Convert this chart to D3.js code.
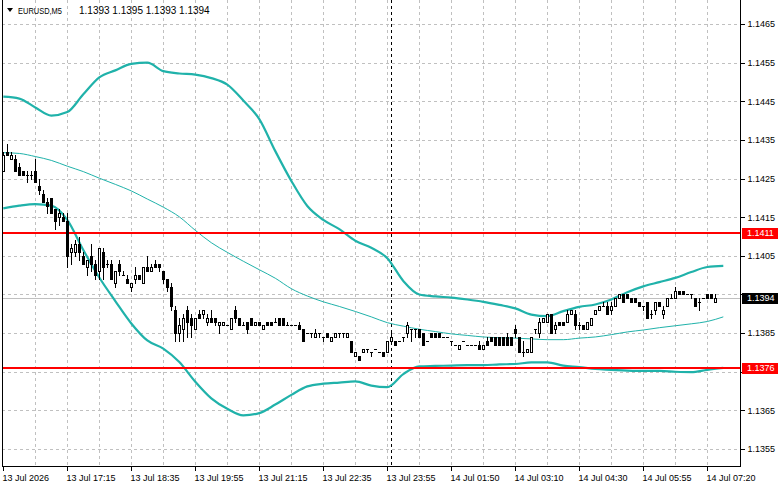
<!DOCTYPE html>
<html>
<head>
<meta charset="utf-8">
<script src="https://cdn.jsdelivr.net/npm/d3@7"></script>
<style>
  body { margin: 0; background: #fff; }
  svg { display: block; font-family: "Liberation Sans", Arial, sans-serif; }
  .axis text { font-size: 9px; fill: #000; }
</style>
</head>
<body>
<div class="chart"></div>
<script>
// EURUSD M5 candles, bars are numbered from the left edge
var open = [
  1.1427,1.1432,1.1430,1.1430,1.1428,1.1427,1.1426,1.1426,1.1427,1.1423,
  1.1421,1.1419,1.1420,1.1417,1.1415,1.1415,1.1414,1.1406,1.1406,1.1408,
  1.1405,1.1402,1.1405,1.1403,1.1401,1.1406,1.1403,1.1403,1.1398,1.1403,
  1.1400,1.1399,1.1397,1.1399,1.1400,1.1398,1.1402,1.1401,1.1403,1.1403,
  1.1401,1.1399,1.1397,1.1391,1.1385,1.1386,1.1391,1.1389,1.1386,1.1390,
  1.1390,1.1388,1.1389,1.1389,1.1387,1.1387,1.1387,1.1386,1.1391,1.1389,
  1.1387,1.1388,1.1389,1.1387,1.1388,1.1386,1.1388,1.1388,1.1388,1.1389,
  1.1389,1.1387,1.1387,1.1387,1.1387,1.1386,1.1385,1.1385,1.1384,1.1385,
  1.1384,1.1385,1.1383,1.1384,1.1385,1.1385,1.1384,1.1383,1.1379,1.1379,
  1.1380,1.1381,1.1380,1.1381,1.1380,1.1380,1.1380,1.1383,1.1383,1.1383,
  1.1384,1.1385,1.1386,1.1386,1.1386,1.1385,1.1383,1.1385,1.1385,1.1385,
  1.1384,1.1384,1.1383,1.1382,1.1381,1.1383,1.1382,1.1382,1.1382,1.1382,
  1.1381,1.1383,1.1384,1.1384,1.1384,1.1384,1.1384,1.1384,1.1386,1.1384,
  1.1380,1.1380,1.1380,1.1386,1.1385,1.1388,1.1388,1.1390,1.1386,1.1388,
  1.1388,1.1388,1.1390,1.1390,1.1387,1.1387,1.1386,1.1387,1.1390,1.1391,
  1.1392,1.1392,1.1391,1.1392,1.1394,1.1395,1.1395,1.1394,1.1394,1.1393,
  1.1392,1.1393,1.1390,1.1391,1.1393,1.1390,1.1392,1.1394,1.1394,1.1396,
  1.1396,1.1395,1.1395,1.1394,1.1393,1.1394,1.1395,1.1395,1.1393
];
var high = [
  1.1432,1.1434,1.1432,1.1431,1.1429,1.1427,1.1427,1.1427,1.1430,1.1425,
  1.1422,1.1420,1.1420,1.1417,1.1417,1.1416,1.1416,1.1408,1.1409,1.1410,
  1.1406,1.1404,1.1408,1.1404,1.1407,1.1407,1.1404,1.1404,1.1401,1.1404,
  1.1401,1.1400,1.1398,1.1402,1.1400,1.1402,1.1405,1.1403,1.1404,1.1403,
  1.1401,1.1399,1.1398,1.1392,1.1389,1.1390,1.1392,1.1390,1.1389,1.1391,
  1.1391,1.1390,1.1391,1.1389,1.1388,1.1388,1.1387,1.1389,1.1392,1.1389,
  1.1388,1.1388,1.1389,1.1388,1.1388,1.1387,1.1388,1.1388,1.1389,1.1389,
  1.1389,1.1388,1.1387,1.1387,1.1388,1.1386,1.1385,1.1385,1.1386,1.1385,
  1.1384,1.1385,1.1384,1.1385,1.1385,1.1385,1.1385,1.1383,1.1380,1.1379,
  1.1381,1.1381,1.1380,1.1381,1.1380,1.1380,1.1383,1.1385,1.1383,1.1383,
  1.1384,1.1388,1.1386,1.1386,1.1386,1.1385,1.1383,1.1385,1.1385,1.1385,
  1.1384,1.1384,1.1383,1.1382,1.1382,1.1383,1.1382,1.1382,1.1382,1.1383,
  1.1382,1.1384,1.1384,1.1384,1.1384,1.1384,1.1385,1.1384,1.1387,1.1384,
  1.1383,1.1381,1.1384,1.1386,1.1389,1.1389,1.1390,1.1390,1.1388,1.1388,
  1.1388,1.1391,1.1391,1.1391,1.1388,1.1387,1.1388,1.1389,1.1391,1.1392,
  1.1393,1.1393,1.1393,1.1394,1.1395,1.1395,1.1395,1.1394,1.1394,1.1393,
  1.1392,1.1393,1.1391,1.1393,1.1393,1.1392,1.1394,1.1395,1.1397,1.1396,
  1.1396,1.1395,1.1395,1.1394,1.1394,1.1394,1.1395,1.1395,1.1395
];
var low = [
  1.1427,1.1431,1.1430,1.1427,1.1426,1.1426,1.1424,1.1425,1.1424,1.1421,
  1.1419,1.1416,1.1416,1.1412,1.1413,1.1414,1.1402,1.1403,1.1405,1.1404,
  1.1403,1.1400,1.1401,1.1399,1.1399,1.1399,1.1402,1.1399,1.1397,1.1400,
  1.1400,1.1398,1.1396,1.1398,1.1399,1.1398,1.1401,1.1401,1.1402,1.1401,
  1.1398,1.1396,1.1391,1.1383,1.1383,1.1383,1.1384,1.1384,1.1386,1.1389,
  1.1389,1.1387,1.1388,1.1387,1.1385,1.1387,1.1387,1.1386,1.1388,1.1387,
  1.1387,1.1385,1.1387,1.1387,1.1387,1.1386,1.1387,1.1387,1.1388,1.1387,
  1.1387,1.1387,1.1387,1.1387,1.1386,1.1383,1.1385,1.1384,1.1384,1.1384,
  1.1383,1.1384,1.1383,1.1384,1.1384,1.1384,1.1384,1.1380,1.1379,1.1378,
  1.1380,1.1380,1.1379,1.1381,1.1380,1.1379,1.1380,1.1383,1.1382,1.1383,
  1.1383,1.1384,1.1383,1.1384,1.1384,1.1382,1.1383,1.1384,1.1384,1.1384,
  1.1384,1.1384,1.1382,1.1382,1.1381,1.1383,1.1382,1.1382,1.1382,1.1381,
  1.1381,1.1382,1.1383,1.1382,1.1382,1.1382,1.1382,1.1382,1.1384,1.1380,
  1.1379,1.1380,1.1380,1.1385,1.1384,1.1388,1.1388,1.1385,1.1385,1.1387,
  1.1387,1.1388,1.1390,1.1386,1.1386,1.1386,1.1386,1.1387,1.1390,1.1391,
  1.1392,1.1390,1.1390,1.1392,1.1394,1.1393,1.1394,1.1393,1.1393,1.1392,
  1.1391,1.1389,1.1389,1.1390,1.1392,1.1389,1.1392,1.1394,1.1394,1.1395,
  1.1395,1.1395,1.1394,1.1392,1.1391,1.1394,1.1394,1.1394,1.1393
];
var close = [
  1.1431,1.1431,1.1431,1.1427,1.1426,1.1426,1.1426,1.1426,1.1424,1.1422,
  1.1419,1.1418,1.1416,1.1414,1.1416,1.1414,1.1405,1.1407,1.1408,1.1406,
  1.1403,1.1404,1.1403,1.1400,1.1407,1.1402,1.1403,1.1399,1.1401,1.1401,
  1.1400,1.1398,1.1398,1.1400,1.1399,1.1402,1.1401,1.1402,1.1402,1.1402,
  1.1399,1.1397,1.1392,1.1385,1.1387,1.1389,1.1388,1.1387,1.1389,1.1389,
  1.1391,1.1389,1.1388,1.1388,1.1388,1.1388,1.1387,1.1389,1.1389,1.1387,
  1.1387,1.1386,1.1387,1.1388,1.1387,1.1387,1.1387,1.1387,1.1388,1.1387,
  1.1387,1.1387,1.1387,1.1387,1.1386,1.1383,1.1385,1.1385,1.1385,1.1385,
  1.1384,1.1384,1.1384,1.1385,1.1385,1.1385,1.1385,1.1380,1.1380,1.1378,
  1.1381,1.1381,1.1380,1.1381,1.1380,1.1379,1.1383,1.1384,1.1382,1.1383,
  1.1384,1.1387,1.1386,1.1386,1.1384,1.1382,1.1383,1.1384,1.1384,1.1384,
  1.1384,1.1384,1.1383,1.1382,1.1382,1.1383,1.1382,1.1382,1.1382,1.1381,
  1.1382,1.1382,1.1383,1.1382,1.1382,1.1382,1.1382,1.1382,1.1385,1.1380,
  1.1380,1.1381,1.1384,1.1386,1.1388,1.1389,1.1390,1.1385,1.1387,1.1387,
  1.1387,1.1390,1.1391,1.1387,1.1387,1.1386,1.1388,1.1389,1.1391,1.1392,
  1.1392,1.1390,1.1392,1.1394,1.1395,1.1393,1.1394,1.1393,1.1393,1.1392,
  1.1392,1.1389,1.1390,1.1393,1.1392,1.1391,1.1394,1.1394,1.1396,1.1395,
  1.1395,1.1395,1.1395,1.1392,1.1393,1.1394,1.1394,1.1394,1.1394
];

// Bollinger bands every 4 bars (shifted 2 bars ahead)
var bandIdx = [0,4,8,12,16,20,24,28,32,36,40,44,48,52,56,60,64,68,72,76,80,84,88,
  92,96,100,104,108,112,116,120,124,128,132,136,140,144,148,152,156,160,164,168,
  172,176,180];
var upperBand = [
  1.14462,1.14457,1.14434,1.14413,1.14422,1.14468,1.14512,1.14530,1.14547,1.14550,
  1.14528,1.14522,1.14519,1.14510,1.14493,1.14452,1.14404,1.14321,1.14244,1.14179,
  1.14143,1.14119,1.14089,1.14071,1.14044,1.13985,1.13950,1.13945,1.13942,1.13937,
  1.13931,1.13923,1.13914,1.13898,1.13894,1.13907,1.13918,1.13924,1.13937,1.13956,
  1.13971,1.13982,1.13993,1.14008,1.14021,1.14024
];
var middleBand = [
  1.14317,1.14315,1.14307,1.14297,1.14282,1.14268,1.14251,1.14235,1.14218,1.14197,
  1.14176,1.14151,1.14116,1.14084,1.14059,1.14036,1.14014,1.13992,1.13965,1.13946,
  1.13931,1.13919,1.13906,1.13892,1.13877,1.13868,1.13860,1.13854,1.13848,1.13844,
  1.13840,1.13838,1.13837,1.13835,1.13833,1.13833,1.13837,1.13840,1.13846,1.13853,
  1.13858,1.13864,1.13869,1.13874,1.13880,1.13892
];
var lowerBand = [
  1.14173,1.14180,1.14184,1.14180,1.14143,1.14065,1.13994,1.13933,1.13875,1.13831,
  1.13810,1.13775,1.13724,1.13681,1.13654,1.13637,1.13643,1.13665,1.13690,1.13712,
  1.13719,1.13722,1.13725,1.13714,1.13710,1.13744,1.13764,1.13765,1.13766,1.13767,
  1.13767,1.13769,1.13770,1.13774,1.13774,1.13766,1.13762,1.13757,1.13755,1.13753,
  1.13752,1.13752,1.13750,1.13749,1.13755,1.13760
];

var priceTicks = [1.1355,1.1365,1.1375,1.1385,1.1395,1.1405,1.1415,1.1425,1.1435,1.1445,1.1455,1.1465];
var hiddenTicks = [1.1375, 1.1395]; // covered by the price boxes
var timeIdx = [0,16,32,48,64,80,96,112,128,144,160,176];
var timeLabels = ["13 Jul 2026","13 Jul 17:15","13 Jul 18:35","13 Jul 19:55","13 Jul 21:15",
  "13 Jul 22:35","13 Jul 23:55","14 Jul 01:50","14 Jul 03:10","14 Jul 04:30","14 Jul 05:55","14 Jul 07:20"];
var gridIdx = [8,16,24,32,40,48,56,64,72,80,88,96,104,112,120,128,136,144,152,160,168,176];
var separatorIdx = 97;
var levels = [1.1411, 1.1376];
var bid = 1.1394;
var symbol = "EURUSD,M5";
var ohlc = "1.1393 1.1395 1.1393 1.1394";

var width = 781, height = 489;
var plotLeft = 2, plotRight = 740, plotTop = 0, plotBottom = 466;
var teal = "#20b2aa";
var fmt = d3.format(".4f");

var svg = d3.select(".chart").append("svg")
  .attr("width", width).attr("height", height);

var x = d3.scaleLinear().domain([0, 184]).range([3.3, 739.3]);
var y = d3.scaleLinear().domain([1.13506, 1.14707]).range([466, 2]);

svg.append("clipPath").attr("id", "plot")
  .append("rect").attr("x", plotLeft).attr("y", plotTop)
  .attr("width", plotRight - plotLeft).attr("height", plotBottom - plotTop);

// grid
var grid = svg.append("g").attr("stroke", "#c0c0c0").attr("stroke-dasharray", "3,3")
  .attr("shape-rendering", "crispEdges");
grid.selectAll(".h").data(priceTicks).join("line")
  .attr("x1", plotLeft).attr("x2", plotRight)
  .attr("y1", function (d) { return Math.round(y(d)) + 0.5; })
  .attr("y2", function (d) { return Math.round(y(d)) + 0.5; });
grid.selectAll(".v").data(gridIdx).join("line")
  .attr("y1", plotTop).attr("y2", plotBottom)
  .attr("x1", function (d) { return Math.round(x(d)) + 0.5; })
  .attr("x2", function (d) { return Math.round(x(d)) + 0.5; });

var plot = svg.append("g").attr("clip-path", "url(#plot)");

// period separator
plot.append("line")
  .attr("x1", Math.round(x(separatorIdx)) + 0.5).attr("x2", Math.round(x(separatorIdx)) + 0.5)
  .attr("y1", plotTop).attr("y2", plotBottom)
  .attr("stroke", "#000").attr("stroke-dasharray", "3,3").attr("shape-rendering", "crispEdges");

// bid line
plot.append("line")
  .attr("x1", plotLeft).attr("x2", plotRight)
  .attr("y1", Math.round(y(bid)) + 0.5).attr("y2", Math.round(y(bid)) + 0.5)
  .attr("stroke", "#c0c0c0").attr("shape-rendering", "crispEdges");

// bollinger bands
function bandLine(values) {
  return d3.line()
    .x(function (d, i) { return x(bandIdx[i]); })
    .y(function (d) { return y(d); })
    .curve(d3.curveMonotoneX)(values);
}
plot.append("path").attr("d", bandLine(middleBand))
  .attr("fill", "none").attr("stroke", teal).attr("stroke-width", 1);
[upperBand, lowerBand].forEach(function (b) {
  plot.append("path").attr("d", bandLine(b))
    .attr("fill", "none").attr("stroke", teal).attr("stroke-width", 2.2);
});

// level lines
plot.selectAll(".level").data(levels).join("line")
  .attr("x1", plotLeft).attr("x2", plotRight)
  .attr("y1", function (d) { return Math.round(y(d)); })
  .attr("y2", function (d) { return Math.round(y(d)); })
  .attr("stroke", "#ff0000").attr("stroke-width", 2).attr("shape-rendering", "crispEdges");

// candles
var candles = plot.append("g").attr("shape-rendering", "crispEdges");
var bars = candles.selectAll("g").data(d3.range(open.length)).join("g");
bars.append("rect")
  .attr("x", function (i) { return Math.round(x(i)); })
  .attr("width", 1)
  .attr("y", function (i) { return Math.round(y(high[i])); })
  .attr("height", function (i) { return Math.round(y(low[i])) - Math.round(y(high[i])) + 1; })
  .attr("fill", "#000");
bars.each(function (i) {
  var g = d3.select(this);
  var cx = Math.round(x(i));
  var top = Math.round(y(Math.max(open[i], close[i])));
  var bot = Math.round(y(Math.min(open[i], close[i])));
  if (close[i] > open[i]) {
    g.append("rect").attr("x", cx - 0.5).attr("y", top + 0.5)
      .attr("width", 2).attr("height", bot - top)
      .attr("fill", "#fff").attr("stroke", "#000");
  } else {
    g.append("rect").attr("x", cx - 1).attr("y", top)
      .attr("width", 3).attr("height", bot - top + 1).attr("fill", "#000");
  }
});

// frame
svg.append("path")
  .attr("d", "M" + (plotLeft + 0.5) + "," + plotTop + "V" + (plotBottom + 0.5) + "H" + (plotRight + 0.5))
  .attr("fill", "none").attr("stroke", "#000").attr("shape-rendering", "crispEdges");

// price axis
svg.append("g").attr("class", "axis")
  .attr("transform", "translate(" + (plotRight + 0.5) + ",0)")
  .call(d3.axisRight(y).tickValues(priceTicks).tickSize(4).tickSizeOuter(0).tickPadding(3)
    .tickFormat(function (d) { return hiddenTicks.indexOf(d) >= 0 ? "" : fmt(d); }))
  .call(function (g) {
    g.select(".domain").attr("d", "M0," + plotTop + "V" + (plotBottom + 1));
    g.selectAll("line").attr("shape-rendering", "crispEdges");
  });

// time axis
svg.append("g").attr("class", "axis")
  .attr("transform", "translate(0," + (plotBottom + 0.5) + ")")
  .call(d3.axisBottom(x).tickValues(timeIdx).tickSize(4).tickPadding(4)
    .tickFormat(function (d, i) { return timeLabels[i]; }))
  .call(function (g) {
    g.select(".domain").remove();
    g.selectAll(".tick").attr("transform", function (d) {
      return "translate(" + (Math.round(x(d)) + 0.5) + ",0)";
    });
    g.selectAll("line").attr("shape-rendering", "crispEdges");
    g.selectAll("text").attr("text-anchor", "start").attr("x", -1);
  });

// price label boxes
function priceBox(v, fill) {
  var cy = Math.round(y(v));
  svg.append("rect").attr("x", 742).attr("y", cy - 5).attr("width", 36).attr("height", 11)
    .attr("fill", fill);
  svg.append("text").attr("x", 747).attr("y", cy).attr("dy", "0.34em")
    .attr("font-size", 9).attr("fill", "#fff").text(fmt(v));
}
levels.forEach(function (v) { priceBox(v, "#ff0000"); });
priceBox(bid, "#000");

// title
svg.append("path").attr("d", "M7,8H13L10,12Z").attr("fill", "#000");
svg.append("text").attr("x", 18).attr("y", 14).attr("font-size", 9.5)
  .attr("textLength", 44).attr("lengthAdjust", "spacingAndGlyphs").text(symbol);
svg.append("text").attr("x", 79).attr("y", 14).attr("font-size", 10).text(ohlc);
</script>
</body>
</html>
